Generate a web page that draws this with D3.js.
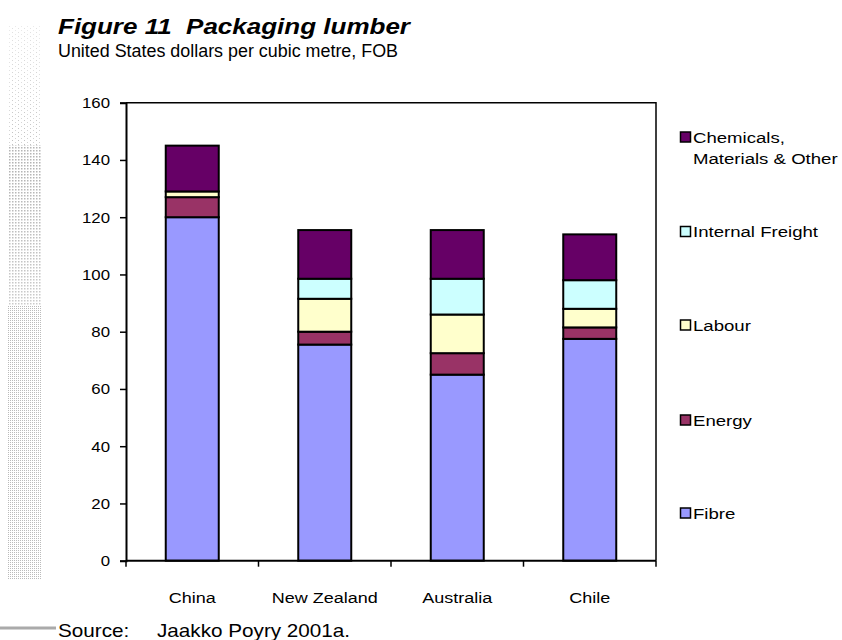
<!DOCTYPE html>
<html>
<head>
<meta charset="utf-8">
<script src="https://cdn.jsdelivr.net/npm/d3@7"></script>
<style>
  html, body { margin: 0; padding: 0; background: #fff; }
  svg { display: block; font-family: "Liberation Sans", Arial, sans-serif; }
  .pre { white-space: pre; }
</style>
</head>
<body>
<svg id="chart" width="842" height="640"></svg>
<script>
// Cost breakdown of packaging lumber, USD per cubic metre (FOB)
const categories = ["China", "New Zealand", "Australia", "Chile"];
const seriesNames = ["Fibre", "Energy", "Labour", "Internal Freight", "Chemicals, Materials & Other"];
const fibre          = [120, 75.5, 65, 77.5];
const energy         = [7, 4.5, 7.5, 4];
const labour         = [2, 11.5, 13.5, 6.5];
const internalFreight= [0, 7, 12.5, 10];
const chemicals      = [16, 17, 17, 16];
const yTicks = [0, 20, 40, 60, 80, 100, 120, 140, 160];
const colors = ["#9999FF", "#993366", "#FFFFCC", "#CCFFFF", "#660066"];

const seriesValues = [fibre, energy, labour, internalFreight, chemicals];
const rows = categories.map((c, i) => {
  const r = { category: c };
  seriesNames.forEach((s, j) => r[s] = seriesValues[j][i]);
  return r;
});

const svg = d3.select("#chart");
const SX = 1.2; // horizontal text stretch

const plot = { left: 126, right: 656, top: 102.7, bottom: 560.7 };

const x = d3.scaleBand()
  .domain(categories)
  .range([plot.left, plot.right])
  .paddingInner(0.6)
  .paddingOuter(0.3);

const y = d3.scaleLinear()
  .domain([0, 160])
  .range([plot.bottom, plot.top]);

// stretched text helper
function label(parent, txt, px, py, size, anchor, opts = {}) {
  const t = parent.append("text")
    .attr("transform", `translate(${px},${py}) scale(${opts.sx || SX},1)`)
    .attr("text-anchor", anchor || "start")
    .attr("font-size", size)
    .attr("fill", "#000")
    .text(txt);
  if (opts.weight) t.attr("font-weight", opts.weight);
  if (opts.style) t.attr("font-style", opts.style);
  return t;
}

// decorative halftone margin strip
const defs = svg.append("defs");
const pA = defs.append("pattern").attr("id", "dotsA").attr("width", 6).attr("height", 4).attr("patternUnits", "userSpaceOnUse");
pA.append("rect").attr("width", 1).attr("height", 1).attr("fill", "#bbb");
pA.append("rect").attr("x", 3).attr("y", 2).attr("width", 1).attr("height", 1).attr("fill", "#ccc");
const pB = defs.append("pattern").attr("id", "dotsB").attr("width", 3).attr("height", 3).attr("patternUnits", "userSpaceOnUse");
pB.append("rect").attr("width", 1.5).attr("height", 1.5).attr("fill", "#b0b0b0");
const pC = defs.append("pattern").attr("id", "dotsC").attr("width", 2).attr("height", 2).attr("patternUnits", "userSpaceOnUse");
pC.append("rect").attr("width", 1).attr("height", 1).attr("fill", "#bbb");
const grad = defs.append("linearGradient").attr("id", "fadeMask").attr("x1", 0).attr("y1", 0).attr("x2", 0).attr("y2", 1);
grad.append("stop").attr("offset", "0%").attr("stop-color", "#fff").attr("stop-opacity", 0.6);
grad.append("stop").attr("offset", "100%").attr("stop-color", "#fff").attr("stop-opacity", 0);
const grad2 = defs.append("linearGradient").attr("id", "fadeMid").attr("x1", 0).attr("y1", 0).attr("x2", 0).attr("y2", 1);
grad2.append("stop").attr("offset", "0%").attr("stop-color", "#fff").attr("stop-opacity", 0);
grad2.append("stop").attr("offset", "100%").attr("stop-color", "#fff").attr("stop-opacity", 0.35);
const strip = svg.append("g");
strip.append("rect").attr("x", 8).attr("y", 25).attr("width", 34).attr("height", 120).attr("fill", "url(#dotsA)");
strip.append("rect").attr("x", 8).attr("y", 145).attr("width", 34).attr("height", 160).attr("fill", "url(#dotsB)");
strip.append("rect").attr("x", 8).attr("y", 145).attr("width", 34).attr("height", 160).attr("fill", "url(#fadeMid)");
strip.append("rect").attr("x", 8).attr("y", 305).attr("width", 34).attr("height", 275).attr("fill", "url(#dotsC)");
strip.append("rect").attr("x", 8).attr("y", 25).attr("width", 34).attr("height", 140).attr("fill", "url(#fadeMask)");

// title block
svg.append("text")
  .attr("class", "pre")
  .attr("x", 58).attr("y", 34)
  .attr("font-size", 22.5).attr("font-weight", "bold").attr("font-style", "italic")
  .attr("textLength", 352).attr("lengthAdjust", "spacingAndGlyphs")
  .text("Figure 11  Packaging lumber");
svg.append("text")
  .attr("x", 58).attr("y", 57)
  .attr("font-size", 17.5)
  .attr("textLength", 340).attr("lengthAdjust", "spacingAndGlyphs")
  .text("United States dollars per cubic metre, FOB");

// stacked bars
const stack = d3.stack().keys(seriesNames);
const layers = stack(rows);

const barG = svg.append("g");
barG.selectAll("g.layer")
  .data(layers)
  .join("g")
  .attr("class", "layer")
  .attr("fill", (d, i) => colors[i])
  .selectAll("rect")
  .data(d => d.filter(s => s[1] - s[0] > 0))
  .join("rect")
  .attr("x", d => x(d.data.category))
  .attr("width", x.bandwidth())
  .attr("y", d => y(d[1]))
  .attr("height", d => y(d[0]) - y(d[1]))
  .attr("stroke", "#000")
  .attr("stroke-width", 2);

// plot frame (top and right)
svg.append("path")
  .attr("d", `M${plot.left},${plot.top}H${plot.right}V${plot.bottom}`)
  .attr("fill", "none").attr("stroke", "#000").attr("stroke-width", 1.5);

// y axis
const yAxis = svg.append("g")
  .attr("transform", `translate(${plot.left},0)`)
  .call(d3.axisLeft(y).tickValues(yTicks).tickSize(6).tickPadding(10).tickFormat(d3.format("d")));
yAxis.select(".domain").attr("stroke-width", 2);
yAxis.selectAll(".tick line").attr("stroke-width", 1.5);
yAxis.selectAll(".tick text").each(function () {
  const t = d3.select(this);
  const tx = +t.attr("x");
  t.attr("x", null).attr("dy", null)
    .attr("transform", `translate(${tx},5) scale(${SX},1)`)
    .attr("font-size", 14).attr("font-family", null).attr("fill", "#000");
});
yAxis.attr("font-family", null);

// x axis: line with ticks at category boundaries
const step = x.step();
const bounds = [plot.left].concat(categories.map(c => x(c) + x.bandwidth() + (step - x.bandwidth()) / 2));
const xAxis = svg.append("g");
xAxis.append("line")
  .attr("x1", plot.left).attr("x2", plot.right)
  .attr("y1", plot.bottom).attr("y2", plot.bottom)
  .attr("stroke", "#000").attr("stroke-width", 2);
xAxis.selectAll("line.tick")
  .data(bounds)
  .join("line")
  .attr("class", "tick")
  .attr("x1", d => d).attr("x2", d => d)
  .attr("y1", plot.bottom).attr("y2", plot.bottom + 6)
  .attr("stroke", "#000").attr("stroke-width", 1.5);
categories.forEach(c => label(xAxis, c, x(c) + x.bandwidth() / 2, 603, 15, "middle"));

// legend (top entry is the last series)
const legendY = [513, 420, 325, 231.5, 137];
const legend = svg.append("g");
seriesNames.forEach((s, i) => {
  const cy = legendY[i];
  legend.append("rect")
    .attr("x", 680.5).attr("y", cy - 5).attr("width", 10).attr("height", 10)
    .attr("fill", colors[i]).attr("stroke", "#000").attr("stroke-width", 1.5);
  const lines = s === "Chemicals, Materials & Other" ? ["Chemicals,", "Materials & Other"] : [s];
  lines.forEach((ln, k) => label(legend, ln, 693, cy + 5.5 + k * 21.5, 15.5, "start"));
});

// source note
svg.append("line")
  .attr("x1", 0).attr("x2", 56).attr("y1", 628).attr("y2", 628)
  .attr("stroke", "#aaa").attr("stroke-width", 3);
label(svg, "Source:", 58, 637, 18, "start", { sx: 1.15 });
label(svg, "Jaakko Poyry 2001a.", 157, 637, 18, "start", { sx: 1.15 });
</script>
</body>
</html>
